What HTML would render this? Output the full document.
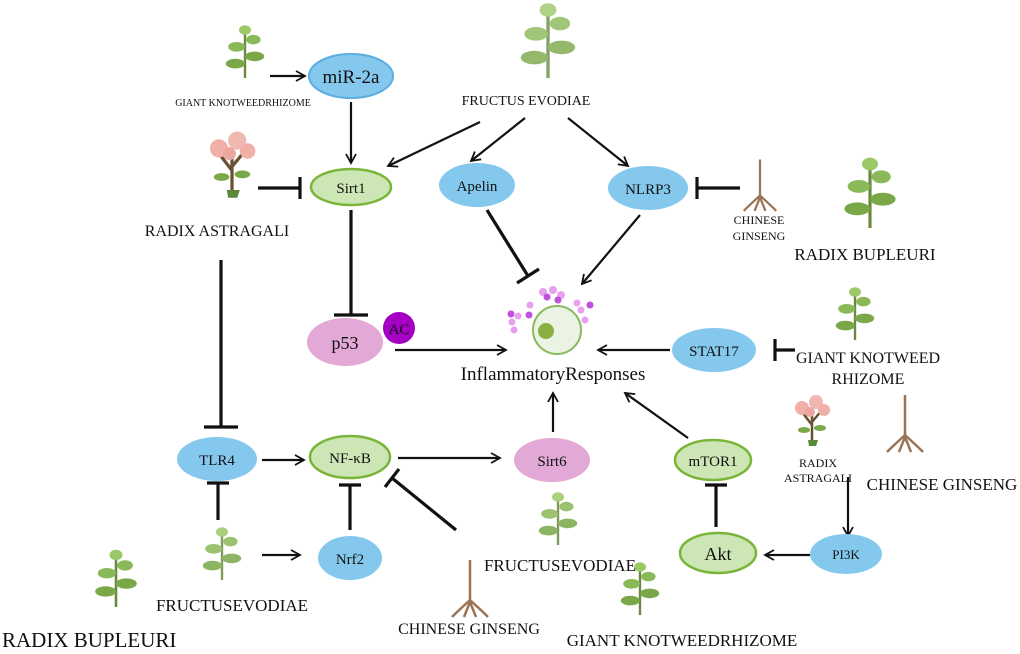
<!DOCTYPE html>
<html><head><meta charset="utf-8"><style>
html,body{margin:0;padding:0;background:#fff}
svg{display:block}
text{font-family:"Liberation Serif",serif;fill:#111}
</style></head><body>
<svg width="1020" height="654" viewBox="0 0 1020 654" xmlns="http://www.w3.org/2000/svg">
<defs>
<marker id="a" markerWidth="12" markerHeight="12" refX="10" refY="6" orient="auto" markerUnits="userSpaceOnUse">
<path d="M1,1 L10,6 L1,11" fill="none" stroke="#111" stroke-width="1.8"/></marker>
<g id="leafy"><path d="M0,0 L0,-40" stroke="#6a8a40" stroke-width="2"/>
<ellipse cx="-8" cy="-12" rx="8" ry="4" fill="#7aa848"/><ellipse cx="8" cy="-18" rx="8" ry="4" fill="#7aa848"/>
<ellipse cx="-7" cy="-26" rx="7" ry="4" fill="#8bb858"/><ellipse cx="7" cy="-32" rx="6" ry="4" fill="#8bb858"/>
<ellipse cx="0" cy="-40" rx="5" ry="4" fill="#9cc868"/></g>
<g id="root"><path d="M0,-45 L0,0 M0,-5 L-14,8 M0,-5 L14,8 M0,-3 L-6,12 M0,-3 L6,12 M-14,8 L-18,12 M14,8 L18,12" stroke="#9a7456" stroke-width="2.5" fill="none"/></g>
<g id="astr"><path d="M0,0 L0,-25 M0,-15 L-10,-28 M0,-18 L10,-30" stroke="#6a5030" stroke-width="2.5"/>
<circle cx="-10" cy="-32" r="7" fill="#f0b0a8"/><circle cx="4" cy="-38" r="7" fill="#f0b8b0"/><circle cx="12" cy="-30" r="6" fill="#f0b0a8"/><circle cx="-2" cy="-28" r="5" fill="#eaa8a0"/>
<ellipse cx="-8" cy="-10" rx="6" ry="3" fill="#7aa848"/><ellipse cx="8" cy="-12" rx="6" ry="3" fill="#7aa848"/><path d="M-4,0 L6,0 L4,6 L-3,6z" fill="#5a8a38"/></g>
</defs>

<use href="#leafy" transform="translate(245,78) scale(1.2)"/>
<use href="#astr" transform="translate(232,190) scale(1.3)"/>
<use href="#leafy" transform="translate(548,78) scale(1.7,1.7)" opacity="0.8"/>
<use href="#root" transform="translate(760,200) scale(0.9)"/>
<use href="#leafy" transform="translate(870,228) scale(1.6)"/>
<use href="#leafy" transform="translate(855,340) scale(1.2)"/>
<use href="#astr" transform="translate(812,440) scale(1.0)"/>
<use href="#root" transform="translate(905,440) scale(1.0)"/>
<use href="#leafy" transform="translate(222,580) scale(1.2)" opacity="0.85"/>
<use href="#leafy" transform="translate(116,607) scale(1.3)"/>
<use href="#leafy" transform="translate(558,545) scale(1.2)" opacity="0.85"/>
<use href="#root" transform="translate(470,605) scale(1.0)"/>
<use href="#leafy" transform="translate(640,615) scale(1.2)"/>

<g stroke="#111" stroke-width="2.2" fill="none">
<line x1="270" y1="76" x2="305" y2="76" marker-end="url(#a)"/>
<line x1="351" y1="102" x2="351" y2="163" marker-end="url(#a)"/>
<line x1="480" y1="122" x2="388" y2="166" marker-end="url(#a)"/>
<line x1="525" y1="118" x2="471" y2="161" marker-end="url(#a)"/>
<line x1="568" y1="118" x2="628" y2="166" marker-end="url(#a)"/>
<line x1="640" y1="215" x2="582" y2="284" marker-end="url(#a)"/>
<line x1="395" y1="350" x2="506" y2="350" marker-end="url(#a)"/>
<line x1="670" y1="350" x2="598" y2="350" marker-end="url(#a)"/>
<line x1="262" y1="460" x2="304" y2="460" marker-end="url(#a)"/>
<line x1="398" y1="458" x2="500" y2="458" marker-end="url(#a)"/>
<line x1="553" y1="432" x2="553" y2="393" marker-end="url(#a)"/>
<line x1="688" y1="438" x2="625" y2="393" marker-end="url(#a)"/>
<line x1="810" y1="555" x2="765" y2="555" marker-end="url(#a)"/>
<line x1="848" y1="477" x2="848" y2="536" marker-end="url(#a)"/>
<line x1="262" y1="555" x2="300" y2="555" marker-end="url(#a)"/>
</g>
<g stroke="#111" stroke-width="3.2" fill="none">
<line x1="258" y1="188" x2="300" y2="188"/><line x1="300" y1="177" x2="300" y2="199"/>
<line x1="351" y1="210" x2="351" y2="315"/><line x1="334" y1="315" x2="368" y2="315"/>
<line x1="487" y1="210" x2="528" y2="276"/><line x1="517" y1="283" x2="539" y2="269"/>
<line x1="740" y1="188" x2="697" y2="188"/><line x1="697" y1="177" x2="697" y2="199"/>
<line x1="795" y1="350" x2="775" y2="350"/><line x1="775" y1="339" x2="775" y2="361"/>
<line x1="221" y1="260" x2="221" y2="427"/><line x1="204" y1="427" x2="238" y2="427"/>
<line x1="218" y1="520" x2="218" y2="483"/><line x1="207" y1="483" x2="229" y2="483"/>
<line x1="350" y1="530" x2="350" y2="485"/><line x1="339" y1="485" x2="361" y2="485"/>
<line x1="456" y1="530" x2="392" y2="478"/><line x1="385" y1="487" x2="399" y2="469"/>
<line x1="716" y1="527" x2="716" y2="485"/><line x1="705" y1="485" x2="727" y2="485"/>
</g>

<ellipse cx="351" cy="76" rx="42" ry="22" fill="#85c8ee" stroke="#5aaee0" stroke-width="2"/>
<ellipse cx="351" cy="187" rx="40" ry="18" fill="#cde6b6" stroke="#7ab53a" stroke-width="2.5"/>
<ellipse cx="477" cy="185" rx="38" ry="22" fill="#85c8ee"/>
<ellipse cx="648" cy="188" rx="40" ry="22" fill="#85c8ee"/>
<ellipse cx="345" cy="342" rx="38" ry="24" fill="#e2a8d6"/>
<circle cx="399" cy="328" r="16" fill="#a400c4"/>
<ellipse cx="714" cy="350" rx="42" ry="22" fill="#85c8ee"/>
<ellipse cx="217" cy="459" rx="40" ry="22" fill="#85c8ee"/>
<ellipse cx="350" cy="457" rx="40" ry="21" fill="#cde6b6" stroke="#7ab53a" stroke-width="2.5"/>
<ellipse cx="552" cy="460" rx="38" ry="22" fill="#e2a8d6"/>
<ellipse cx="713" cy="460" rx="38" ry="20" fill="#cde6b6" stroke="#7ab53a" stroke-width="2.5"/>
<ellipse cx="350" cy="558" rx="32" ry="22" fill="#85c8ee"/>
<ellipse cx="718" cy="553" rx="38" ry="20" fill="#cde6b6" stroke="#7ab53a" stroke-width="2.5"/>
<ellipse cx="846" cy="554" rx="36" ry="20" fill="#85c8ee"/>

<g fill="#e8a0ee"><circle cx="543" cy="292" r="4"/><circle cx="553" cy="290" r="4"/><circle cx="561" cy="295" r="4"/><circle cx="530" cy="305" r="3.5"/><circle cx="518" cy="316" r="3.5"/><circle cx="512" cy="322" r="3.5"/><circle cx="514" cy="330" r="3.5"/><circle cx="577" cy="303" r="3.5"/><circle cx="581" cy="310" r="3.5"/><circle cx="585" cy="320" r="3.5"/></g>
<g fill="#c050e0"><circle cx="547" cy="297" r="3.5"/><circle cx="558" cy="300" r="3.5"/><circle cx="511" cy="314" r="3.5"/><circle cx="529" cy="315" r="3.5"/><circle cx="590" cy="305" r="3.5"/></g>
<circle cx="557" cy="330" r="24" fill="#eaf3e4" stroke="#8ab860" stroke-width="2"/>
<circle cx="546" cy="331" r="8" fill="#8ab040"/>

<g text-anchor="middle">
<text x="351" y="83" font-size="19">miR-2a</text>
<text x="351" y="193" font-size="15">Sirt1</text>
<text x="477" y="191" font-size="15">Apelin</text>
<text x="648" y="194" font-size="15">NLRP3</text>
<text x="345" y="349" font-size="18">p53</text>
<text x="399" y="334" font-size="15">AC</text>
<text x="714" y="356" font-size="15">STAT17</text>
<text x="217" y="465" font-size="15">TLR4</text>
<text x="350" y="463" font-size="15">NF-κB</text>
<text x="552" y="466" font-size="15">Sirt6</text>
<text x="713" y="466" font-size="15">mTOR1</text>
<text x="350" y="564" font-size="15">Nrf2</text>
<text x="718" y="560" font-size="18">Akt</text>
<text x="846" y="559" font-size="13">PI3K</text>
<text x="553" y="380" font-size="19">InflammatoryResponses</text>
<text x="526" y="105" font-size="14">FRUCTUS EVODIAE</text>
<text x="243" y="106" font-size="10">GIANT KNOTWEEDRHIZOME</text>
<text x="217" y="236" font-size="16">RADIX ASTRAGALI</text>
<text x="759" y="224" font-size="12">CHINESE</text>
<text x="759" y="240" font-size="12">GINSENG</text>
<text x="865" y="260" font-size="17">RADIX BUPLEURI</text>
<text x="868" y="363" font-size="16">GIANT KNOTWEED</text>
<text x="868" y="384" font-size="16">RHIZOME</text>
<text x="818" y="467" font-size="12">RADIX</text>
<text x="818" y="482" font-size="12">ASTRAGALI</text>
<text x="942" y="490" font-size="17">CHINESE GINSENG</text>
<text x="232" y="611" font-size="17">FRUCTUSEVODIAE</text>
<text x="560" y="571" font-size="17">FRUCTUSEVODIAE</text>
<text x="469" y="634" font-size="16">CHINESE GINSENG</text>
<text x="682" y="646" font-size="17">GIANT KNOTWEEDRHIZOME</text>
</g>
<text x="2" y="647" font-size="21">RADIX BUPLEURI</text>
</svg>
</body></html>
